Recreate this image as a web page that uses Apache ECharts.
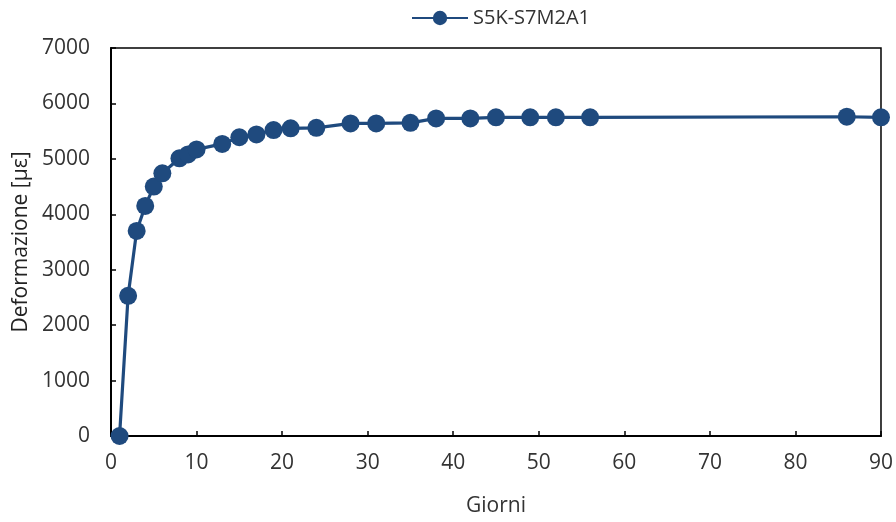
<!DOCTYPE html>
<html><head><meta charset="utf-8">
<script src="https://cdn.jsdelivr.net/npm/echarts@6/dist/echarts.min.js"></script>
<style>html,body{margin:0;padding:0;background:#fff}#c{width:896px;height:522px}</style>
</head><body><div id="c"></div>
<script>
const seriesName = 'S5K-S7M2A1';
const days = [1,2,3,4,5,6,8,9,10,13,15,17,19,21,24,28,31,35,38,42,45,49,52,56,86,90];
const strain = [0,2530,3700,4150,4500,4740,5010,5080,5170,5270,5390,5440,5520,5550,5560,5640,5640,5650,5730,5730,5750,5750,5750,5750,5760,5750];
const xTicks = {min:0,max:90,interval:10};
const yTicks = {min:0,max:7000,interval:1000};
const color = '#1F4A7E';
const font = '"Open Sans", "Liberation Sans", sans-serif';
const chart = echarts.init(document.getElementById('c'));
chart.setOption({
  animation:false,
  backgroundColor:'#fff',
  legend:{top:8,left:411,padding:0,itemWidth:56,itemHeight:18,textStyle:{fontSize:20,color:'#333',fontFamily:font},data:[seriesName]},
  grid:{left:111,right:15,top:48,bottom:84,show:true,borderColor:'#000',borderWidth:1.5},
  xAxis:{type:'value',min:xTicks.min,max:xTicks.max,interval:xTicks.interval,
    name:'Giorni',nameLocation:'middle',nameGap:60,nameTextStyle:{fontSize:21,color:'#333',fontFamily:font},
    axisLine:{show:true,lineStyle:{color:'#000',width:2}},
    axisTick:{show:true,inside:true,length:5,lineStyle:{color:'#000',width:1.5}},
    axisLabel:{fontSize:21,color:'#333',fontFamily:font,margin:17,formatter:v=>String(v)},
    splitLine:{show:false}},
  yAxis:{type:'value',min:yTicks.min,max:yTicks.max,interval:yTicks.interval,
    name:'Deformazione [\u03bc\u03b5]',nameLocation:'middle',nameGap:76,nameTextStyle:{fontSize:21,color:'#222',fontFamily:font},
    axisLine:{show:true,lineStyle:{color:'#000',width:2}},
    axisTick:{show:true,inside:true,length:5,lineStyle:{color:'#000',width:1.5}},
    axisLabel:{fontSize:21,color:'#333',fontFamily:font,margin:21,formatter:v=>String(v)},
    splitLine:{show:false}},
  series:[{name:seriesName,type:'line',data:days.map((d,i)=>[d,strain[i]]),
    symbol:'circle',symbolSize:18,clip:false,
    lineStyle:{color:color,width:3.2},itemStyle:{color:color}}]
});
</script></body></html>
